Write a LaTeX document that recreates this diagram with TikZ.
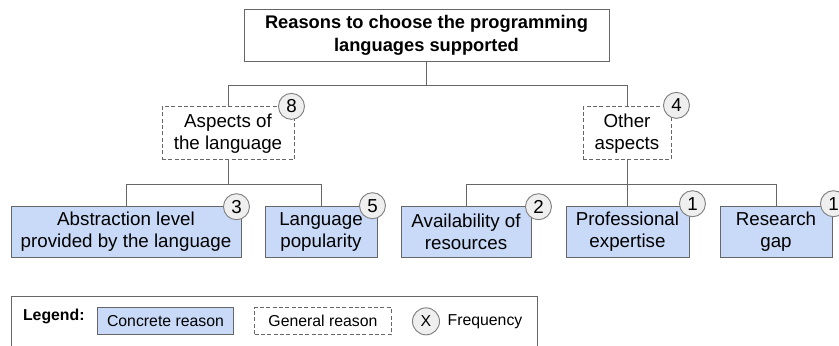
\documentclass[tikz,border=0pt]{standalone}
\usepackage{fontspec}
\setmainfont{Liberation Sans}
\usepackage{tikz}
\usetikzlibrary{shapes.geometric, backgrounds, fit}
\definecolor{reasonblue}{HTML}{C9DAF8}
\definecolor{boxgray}{HTML}{666666}
\definecolor{badgegray}{HTML}{EFEFEF}
\newcommand{\diagfont}{\fontsize{16}{19}\selectfont}
\newcommand{\titlefont}{\fontsize{15.6}{19.6}\selectfont\bfseries}
\newcommand{\legendfont}{\fontsize{13.5}{16}\selectfont}
\tikzstyle{question}  = [rectangle, minimum width=10.95cm, minimum height=1.56cm, text centered, align=center, draw=boxgray, thick, font=\titlefont]
\tikzstyle{general}   = [rectangle, minimum height=1.59cm, text centered, align=center, draw=boxgray, thick, dash pattern=on 3.4pt off 2pt, font=\diagfont]
\tikzstyle{concrete}  = [rectangle, minimum height=1.53cm, text centered, align=center, draw=boxgray, thick, fill=reasonblue, font=\diagfont]
\tikzstyle{freq}      = [circle, minimum size=.78cm, inner sep=0pt, draw=gray, thick, fill=badgegray, font=\diagfont]
\tikzstyle{legendkey} = [rectangle, minimum width=4.1cm, minimum height=.81cm, text centered, draw=boxgray, thick, font=\legendfont]
\tikzstyle{link}      = [thick, draw=boxgray]

\begin{document}
\begin{tikzpicture}[node distance=2.95cm]
    \useasboundingbox (-12.795,1.05) rectangle (12.375,-9.3);
    % Nodes
    %% Root question
    \node (reasons)      [question]                                                          {Reasons to choose the programming\\languages supported};
    %% General reasons
    \node (aspects)      [general, below of=reasons, xshift=-5.955cm, minimum width=3.96cm]  {Aspects of\\the language};
    \node (other)        [general, below of=reasons, xshift=+6.015cm, minimum width=2.64cm]  {Other\\aspects};
    %% Concrete reasons, left branch
    \node (abstraction)  [concrete, below of=aspects, xshift=-3.06cm, minimum width=6.9cm]   {Abstraction level\\provided by the language};
    \node (popularity)   [concrete, below of=aspects, xshift=+2.79cm, minimum width=3.36cm]  {Language\\popularity};
    %% Concrete reasons, right branch
    \node (availability) [concrete, below of=other, xshift=-4.83cm, minimum width=3.9cm]     {Availability of\\resources};
    \node (expertise)    [concrete, below of=other, xshift=+.015cm, minimum width=3.69cm]    {Professional\\expertise};
    \node (gap)          [concrete, below of=other, xshift=+4.47cm, minimum width=3.36cm]    {Research\\gap};

    % Lines
    \draw [link] (reasons.south)     -- ++(0,-.72) coordinate(tmp)       -| (aspects.north);
    \draw [link] (tmp)               -| (other.north);
    \draw [link] (aspects.south)     -- ++(0,-.72) coordinate(tmp_left)  -| (abstraction.north);
    \draw [link] (tmp_left)          -| (popularity.north);
    \draw [link] (other.south)       -- ++(0,-.72) coordinate(tmp_right) -| (availability.north);
    \draw [link] (tmp_right)         -| (expertise.north);
    \draw [link] (tmp_right)         -| (gap.north);

    % Frequencies
    \node (freq_aspects)      [freq, xshift=-.09cm]              at (aspects.north east)      {8};
    \node (freq_other)        [freq, xshift=+.15cm, yshift=.03cm] at (other.north east)        {4};
    \node (freq_abstraction)  [freq, xshift=-.15cm, yshift=-.03cm] at (abstraction.north east) {3};
    \node (freq_popularity)   [freq, xshift=-.15cm]              at (popularity.north east)   {5};
    \node (freq_availability) [freq, xshift=+.21cm, yshift=-.03cm] at (availability.north east) {2};
    \node (freq_expertise)    [freq, xshift=+.09cm, yshift=.06cm] at (expertise.north east)    {1};
    \node (freq_gap)          [freq, xshift=+.03cm, yshift=.06cm] at (gap.north east)          {1};

    % Legend
    \node (concrete_key) [legendkey, fill=reasonblue, below of=abstraction, xshift=1.185cm, yshift=.26cm] {Concrete reason};
    \node (legend_label) [left of=concrete_key, xshift=-.40cm, yshift=.15cm, inner sep=0pt, font=\legendfont\bfseries] {Legend:};
    \node (general_key)  [legendkey, dash pattern=on 3.4pt off 2pt, right of=concrete_key, xshift=1.775cm] {General reason};
    \node (freq_symbol)  [freq, minimum size=.81cm, font=\legendfont, right of=general_key, xshift=.14cm] {X};
    \node (freq_text)    [right of=freq_symbol, xshift=-1.18cm, font=\legendfont] {Frequency};

    % Frame around the legend
    \begin{pgfonlayer}{background}
      \node[draw=boxgray,
      thick,
      fit=(legend_label)(concrete_key)(general_key)(freq_symbol)(freq_text),
      inner sep=.33cm] {};
    \end{pgfonlayer}
\end{tikzpicture}
\end{document}
